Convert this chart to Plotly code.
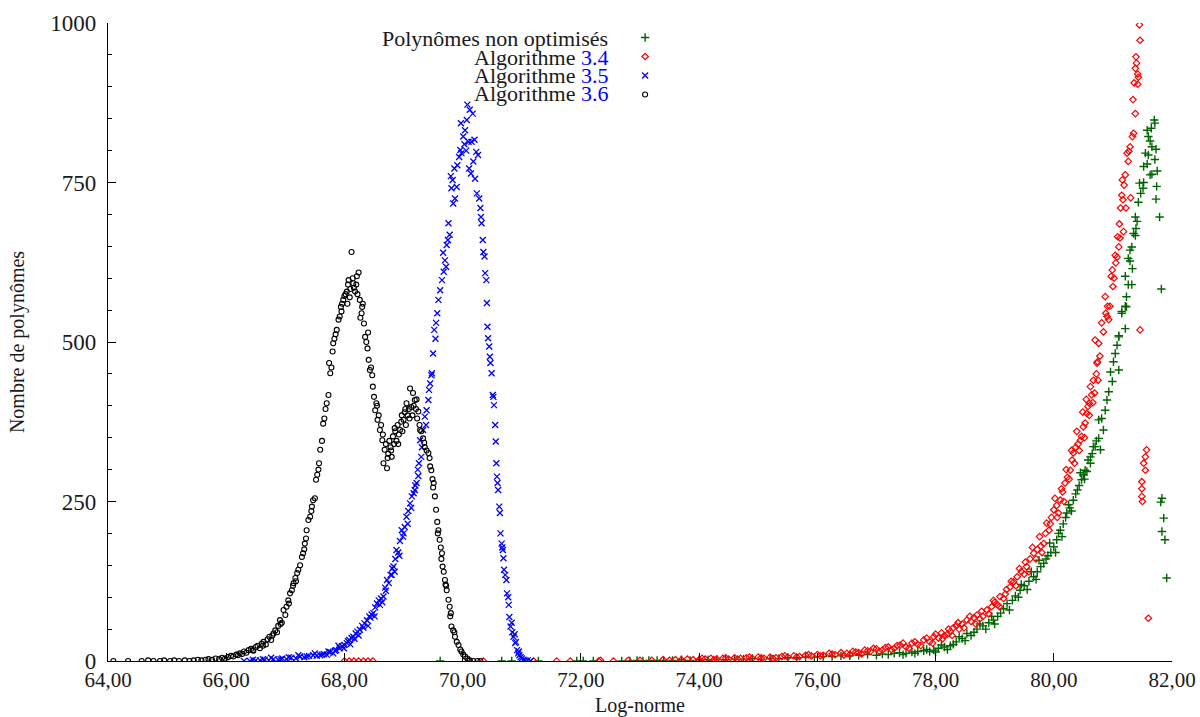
import plotly.graph_objects as go

# ---------------- data ----------------
black_x = [64.09, 64.34, 64.57, 64.68, 64.77, 64.88, 64.95, 65.05, 65.12, 65.2, 65.3, 65.38, 65.45, 65.52, 65.58,
           65.65, 65.7, 65.76, 65.82, 65.88, 65.93, 65.98, 66.03, 66.08, 66.12, 66.17, 66.2, 66.23, 66.27, 66.3,
           66.34, 66.38, 66.42, 66.46, 66.5, 66.53, 66.57, 66.6, 66.63, 66.67, 66.7, 66.73, 66.76, 66.8, 66.83,
           66.86, 66.88, 66.91, 66.94, 66.97, 67.0, 67.02, 67.05, 67.08, 67.11, 67.13, 67.14, 67.17, 67.2, 67.22,
           67.25, 67.28, 67.3, 67.33, 67.35, 67.36, 67.39, 67.42, 67.45, 67.47, 67.5, 67.52, 67.54, 67.57, 67.59,
           67.62, 67.64, 67.66, 67.7, 67.73, 67.74, 67.76, 67.78, 67.81, 67.83, 67.85, 67.87, 67.9, 67.92, 67.94,
           67.96, 67.98, 68.0, 68.02, 68.04, 68.06, 68.07, 68.09, 68.1, 68.12, 68.14, 68.16, 68.18, 68.2, 68.22,
           68.24, 68.26, 68.27, 68.29, 68.31, 68.33, 68.35, 68.37, 68.39, 68.41, 68.43, 68.45, 68.47, 68.48, 68.5,
           68.52, 68.54, 68.56, 68.58, 68.6, 68.62, 68.64, 68.66, 68.68, 68.7, 68.72, 68.74, 68.76, 68.78, 68.8,
           68.82, 68.84, 68.86, 68.88, 68.9, 68.92, 68.94, 68.96, 68.98, 69.0, 69.02, 69.04, 69.05, 69.07, 69.09,
           69.11, 69.13, 69.15, 69.17, 69.19, 69.21, 69.23, 69.25, 69.27, 69.3, 69.33, 69.36, 69.39, 69.42, 69.45,
           69.47, 69.49, 69.51, 69.53, 69.55, 69.57, 69.59, 69.61, 69.63, 69.65, 69.66, 69.68, 69.7, 69.72, 69.73,
           69.76, 69.78, 69.8, 69.81, 69.84, 69.87, 69.9, 69.93, 69.96, 69.98, 70.01, 70.04, 70.08, 70.12, 70.18,
           70.25, 70.3,
           66.45, 66.62, 66.78, 66.92, 67.06, 67.18, 67.32, 67.44, 67.56, 67.68, 67.8, 67.95, 68.05, 68.15, 68.21,
           68.3, 68.4, 68.55, 68.65, 68.73, 68.79, 68.85, 68.91, 68.97, 69.03, 69.1, 69.16, 69.22, 69.28, 69.35,
           69.44, 69.5, 69.58, 69.64, 69.71, 69.79, 69.86]
black_y = [0, 0, 0, 1, 0, 0, 1, 0, 1, 0, 1, 0, 1, 2, 1,
           2, 3, 2, 4, 3, 5, 4, 6, 8, 7, 10, 9, 12, 11, 15,
           13, 17, 19, 16, 22, 24, 20, 27, 30, 26, 34, 38, 33, 43, 48,
           45, 55, 64, 60, 80, 72, 85, 95, 106, 111, 118, 122, 130, 138, 143,
           150, 163, 169, 184, 192, 205, 221, 226, 242, 252, 255, 284, 292, 310, 331,
           345, 372, 380, 404, 417, 467, 451, 460, 498, 505, 512, 519, 535, 540, 555,
           560, 566, 572, 575, 579, 590, 597, 570, 583, 641, 600, 585, 579, 590, 575,
           609, 566, 538, 545, 560, 529, 508, 500, 490, 472, 456, 460, 448, 430, 414,
           393, 404, 378, 385, 362, 370, 346, 310, 331, 340, 302, 325, 345, 335, 320,
           352, 340, 360, 345, 370, 355, 362, 375, 360, 378, 390, 370, 404, 385, 395,
           427, 398, 385, 400, 409, 395, 380, 391, 370, 360, 349, 335, 330, 326, 305,
           299, 285, 279, 258, 237, 218, 205, 190, 178, 169, 148, 140, 127, 118, 111,
           96, 85, 75, 54, 48, 38, 30, 25, 18, 15, 10, 7, 4, 1, 0,
           0, 0,
           17, 24, 40, 58, 90, 125, 175, 235, 300, 395, 485, 548, 560, 592, 603,
           555, 515, 400, 355, 318, 330, 365, 340, 385, 395, 380, 420, 410, 362, 342,
           318, 272, 200, 160, 120, 70, 45]

blue_x = [66.3, 66.4, 66.5, 66.57, 66.65, 66.72, 66.8, 66.88, 66.95, 67.02, 67.1, 67.18, 67.25, 67.32, 67.4,
          67.47, 67.53, 67.59, 67.65, 67.7, 67.76, 67.81, 67.86, 67.92, 67.96, 68.0, 68.04, 68.08, 68.12, 68.15,
          68.19, 68.22, 68.26, 68.3, 68.34, 68.38, 68.42, 68.46, 68.49, 68.52, 68.55, 68.58, 68.62, 68.66, 68.69,
          68.72, 68.75, 68.78, 68.81, 68.83, 68.86, 68.88, 68.91, 68.94, 68.97, 69.0, 69.02, 69.05, 69.08, 69.11,
          69.14, 69.17, 69.2, 69.22, 69.24, 69.26, 69.28, 69.3, 69.33, 69.36, 69.39, 69.42, 69.43, 69.45, 69.47,
          69.48, 69.5, 69.52, 69.54, 69.57, 69.59, 69.62, 69.65, 69.68, 69.7, 69.72, 69.73, 69.75, 69.76, 69.78,
          69.81, 69.83, 69.84, 69.86, 69.87, 69.9, 69.91, 69.94, 69.96, 69.97, 69.98, 70.01, 70.03, 70.04, 70.06,
          70.07, 70.08, 70.1, 70.11, 70.12, 70.14, 70.15, 70.17, 70.18, 70.2, 70.21, 70.23, 70.24, 70.26, 70.28,
          70.3, 70.31, 70.32, 70.34, 70.35, 70.37, 70.38, 70.4, 70.41, 70.42, 70.43, 70.45, 70.46, 70.47, 70.49,
          70.51, 70.52, 70.53, 70.55, 70.56, 70.57, 70.58, 70.59, 70.6, 70.62, 70.63, 70.64, 70.66, 70.68, 70.69,
          70.7, 70.72, 70.74, 70.75, 70.78, 70.79, 70.81, 70.84, 70.86, 70.89, 70.92, 70.94, 70.96, 70.98, 71.0,
          71.03, 71.06, 71.1, 71.15,
          66.45, 66.62, 66.76, 66.92, 67.06, 67.22, 67.36, 67.5, 67.62, 67.73, 67.84, 67.9, 67.99, 68.06, 68.1,
          68.17, 68.24, 68.32, 68.4, 68.44, 68.51, 68.6, 68.64, 68.7, 68.8, 68.85, 68.93, 68.99, 69.07, 69.13,
          69.19, 69.25, 69.31, 69.38, 69.55, 69.67, 69.8, 70.67, 70.77, 70.83, 70.88, 70.9, 70.95]
blue_y = [0, 0, 1, 1, 2, 1, 3, 2, 4, 3, 5, 4, 7, 6, 8,
          9, 8, 9, 11, 10, 14, 12, 17, 20, 23, 25, 28, 33, 36, 38,
          43, 46, 49, 55, 59, 64, 70, 73, 75, 84, 90, 95, 98, 101, 115,
          127, 122, 135, 145, 148, 160, 174, 170, 188, 205, 200, 210, 226, 235, 247,
          258, 263, 275, 279, 300, 310, 346, 320, 362, 383, 393, 409, 425, 435, 448,
          451, 482, 519, 505, 545, 566, 581, 597, 610, 628, 618, 652, 660, 686, 668,
          741, 754, 717, 772, 725, 743, 777, 790, 801, 843, 796, 822, 810, 832, 800,
          848, 872, 814, 772, 864, 764, 814, 858, 783, 817, 756, 798, 733, 793, 725,
          710, 696, 686, 660, 641, 634, 608, 597, 561, 524, 506, 493, 477, 467, 451,
          417, 414, 401, 370, 344, 310, 289, 279, 268, 242, 232, 200, 184, 174, 161,
          143, 135, 127, 106, 88, 69, 54, 45, 38, 28, 17, 12, 9, 6, 4,
          2, 1, 1, 0,
          2, 3, 5, 3, 6, 9, 7, 12, 10, 15, 16, 24, 20, 31, 26,
          35, 40, 52, 55, 68, 70, 88, 92, 110, 135, 140, 165, 195, 215, 240,
          268, 290, 335, 370, 530, 640, 760, 178, 100, 60, 42, 30, 15]

red_x = [68.0, 68.08, 68.16, 68.24, 68.32, 68.4, 68.48, 70.1, 70.35, 71.2, 71.59, 71.82, 72.3, 72.33, 72.55,
         72.8, 73.0, 73.2, 73.39, 73.5, 73.6, 73.7, 73.8, 73.9, 74.0, 74.1, 74.2, 74.3, 74.4, 74.5,
         74.6, 74.7, 74.8, 74.9, 75.0, 75.1, 75.2, 75.3, 75.4, 75.5, 75.6, 75.7, 75.8, 75.9, 76.0,
         76.1, 76.2, 76.3, 76.4, 76.5, 76.6, 76.7, 76.8, 76.9, 77.0, 77.1, 77.2, 77.3, 77.4, 77.5,
         77.6, 77.7, 77.8, 77.9, 77.97, 78.05, 78.1, 78.15, 78.2, 78.25, 78.3, 78.35, 78.4, 78.45, 78.53,
         78.6, 78.65, 78.7, 78.75, 78.8, 78.87, 78.95, 79.0, 79.05, 79.09, 79.15, 79.2, 79.26, 79.32, 79.38,
         79.45, 79.5, 79.54, 79.6, 79.66, 79.72, 79.78, 79.83, 79.88, 79.92, 79.96, 80.0, 80.05, 80.08, 80.11,
         80.15, 80.19, 80.23, 80.28, 80.31, 80.33, 80.37, 80.41, 80.45, 80.47, 80.5, 80.53, 80.56, 80.58, 80.6,
         80.64, 80.67, 80.69, 80.7, 80.73, 80.74, 80.76, 80.78, 80.81, 80.84, 80.87, 80.88, 80.9, 80.91, 80.93,
         80.95, 80.97, 80.99, 81.0, 81.02, 81.04, 81.05, 81.07, 81.08, 81.1, 81.11, 81.12, 81.13, 81.15, 81.16,
         81.17, 81.18, 81.19, 81.21, 81.22, 81.24, 81.26, 81.27, 81.29, 81.3, 81.33, 81.34, 81.35, 81.36, 81.38,
         81.38, 81.39, 81.4, 81.42, 81.43, 81.42, 81.45, 81.46, 81.46, 81.49, 81.49, 81.49, 81.5, 81.52, 81.55,
         81.55, 81.57, 81.6,
         74.05, 74.25, 74.45, 74.65, 74.85, 75.05, 75.25, 75.45, 75.65, 75.85, 76.05, 76.25, 76.45,
         76.55, 76.65, 76.75, 76.85, 76.95, 77.05, 77.15, 77.25, 77.35, 77.45, 77.55, 77.65, 77.75, 77.85, 77.95,
         78.0, 78.12, 78.22, 78.28, 78.38, 78.48, 78.58, 78.68, 78.78, 78.9, 78.98, 79.08, 79.18, 79.28, 79.36,
         79.42, 79.52, 79.58, 79.64, 79.7, 79.76, 79.8, 79.86, 79.94, 80.02, 80.06, 80.13, 80.17, 80.21, 80.26,
         80.3, 80.35, 80.39, 80.43, 80.49, 80.52, 80.55, 80.6, 80.62, 80.66, 80.72, 80.75]
red_y = [0, 0, 0, 0, 0, 0, 0, 0, 0, 0, 0, 0, 0, 1, 0,
         1, 1, 1, 2, 1, 2, 2, 3, 2, 2, 3, 4, 3, 4, 3,
         5, 4, 5, 4, 6, 4, 6, 5, 7, 6, 8, 7, 9, 8, 10,
         9, 12, 10, 13, 12, 15, 13, 17, 15, 19, 17, 22, 20, 25, 22,
         28, 26, 33, 30, 38, 36, 44, 40, 42, 46, 52, 55, 50, 58, 64,
         62, 68, 72, 66, 70, 80, 85, 92, 88, 101, 98, 112, 116, 124, 132,
         140, 136, 148, 160, 169, 175, 180, 184, 216, 205, 225, 237, 244, 232, 252,
         265, 279, 288, 299, 315, 326, 335, 340, 346, 352, 367, 373, 388, 399, 404,
         417, 440, 420, 503, 467, 469, 498, 478, 530, 516, 571, 545, 540, 556, 535,
         556, 603, 613, 587, 600, 636, 624, 633, 665, 649, 685, 663, 710, 730, 754,
         723, 673, 746, 762, 710, 796, 783, 799, 806, 726, 822, 880, 827, 906, 929,
         858, 947, 937, 920, 915, 904, 997, 973, 519, 281, 270, 258, 250, 310, 320,
         299, 331, 67,
         4, 2, 5, 3, 6, 5, 4, 8, 6, 10, 8, 11, 9,
         10, 14, 11, 16, 20, 15, 21, 18, 24, 28, 20, 30, 24, 36, 28,
         42, 35, 50, 40, 60, 52, 70, 58, 78, 74, 95, 85, 105, 125, 118,
         145, 155, 140, 178, 160, 195, 170, 200, 215, 255, 225, 270, 250, 300, 285,
         330, 310, 360, 330, 390, 350, 410, 385, 430, 405, 450, 440]

green_x = [69.62, 70.66, 70.83, 71.28, 71.93, 72.04, 72.21, 72.69, 72.83, 72.95, 73.05, 73.15, 73.29, 73.4, 73.55,
           73.7, 73.85, 74.0, 74.15, 74.3, 74.45, 74.6, 74.75, 74.9, 75.05, 75.2, 75.35, 75.5, 75.65, 75.8,
           75.95, 76.1, 76.25, 76.4, 76.55, 76.7, 76.85, 77.0, 77.1, 77.2, 77.3, 77.39, 77.5, 77.6, 77.7,
           77.8, 77.9, 77.97, 78.05, 78.15, 78.25, 78.35, 78.45, 78.53, 78.6, 78.7, 78.8, 78.9, 78.98, 79.05,
           79.1, 79.21, 79.3, 79.35, 79.43, 79.5, 79.58, 79.66, 79.72, 79.78, 79.83, 79.9, 79.95, 80.0, 80.05,
           80.11, 80.16, 80.22, 80.27, 80.33, 80.4, 80.47, 80.5, 80.53, 80.56, 80.62, 80.62, 80.67, 80.7, 80.76,
           80.76, 80.79, 80.81, 80.84, 80.87, 80.9, 80.93, 80.96, 80.99, 81.01, 81.04, 81.07, 81.1, 81.1, 81.1,
           81.15, 81.15, 81.21, 81.21, 81.23, 81.23, 81.21, 81.26, 81.26, 81.29, 81.29, 81.32, 81.32, 81.33, 81.35,
           81.38, 81.38, 81.39, 81.41, 81.43, 81.45, 81.47, 81.51, 81.52, 81.52, 81.55, 81.58, 81.58, 81.6, 81.6,
           81.63, 81.63, 81.65, 81.66, 81.66, 81.7, 81.71, 81.71, 81.73, 81.73, 81.74, 81.75, 81.79, 81.82, 81.83,
           81.81, 81.86, 81.83, 81.88, 81.91,
           77.45, 77.65, 77.85, 78.0, 78.1, 78.2, 78.3, 78.4, 78.5, 78.65, 78.75, 78.85, 78.95, 79.0, 79.15,
           79.25, 79.4, 79.45, 79.55, 79.62, 79.7, 79.75, 79.87, 79.93, 80.03, 80.08, 80.14, 80.2, 80.25, 80.3,
           80.37, 80.43, 80.45, 80.52, 80.58, 80.65, 80.72]
green_y = [0, 0, 0, 0, 0, 0, 0, 0, 0, 1, 0, 1, 1, 1, 1,
           2, 1, 2, 2, 3, 2, 3, 3, 4, 3, 4, 4, 5, 5, 6,
           6, 7, 7, 8, 8, 9, 10, 9, 11, 10, 12, 13, 12, 14, 15,
           16, 15, 17, 20, 22, 24, 30, 35, 43, 40, 50, 55, 60, 64, 70,
           75, 90, 95, 102, 111, 118, 125, 132, 140, 148, 153, 165, 170, 179, 190,
           205, 215, 232, 240, 252, 268, 284, 292, 299, 297, 310, 320, 336, 336, 349,
           378, 331, 380, 362, 393, 409, 422, 453, 438, 469, 482, 495, 508, 456, 510,
           545, 548, 521, 556, 555, 571, 603, 590, 631, 627, 644, 649, 590, 615, 670,
           667, 696, 678, 689, 719, 749, 733, 741, 750, 775, 796, 779, 832, 822, 793,
           815, 762, 835, 806, 763, 848, 843, 786, 802, 724, 744, 768, 696, 583, 255,
           249, 224, 203, 190, 130,
           10, 12, 18, 14, 25, 18, 26, 38, 32, 45, 58, 50, 70, 58, 82,
           80, 100, 120, 112, 140, 128, 158, 160, 185, 170, 200, 195, 225, 245, 235,
           262, 275, 295, 285, 315, 325, 345]

series_names = ["Polynômes non optimisés", "Algorithme 3.4", "Algorithme 3.5", "Algorithme 3.6"]
x_ticks = [64, 66, 68, 70, 72, 74, 76, 78, 80, 82]
x_tick_labels = ["64,00", "66,00", "68,00", "70,00", "72,00", "74,00", "76,00", "78,00", "80,00", "82,00"]
y_ticks = [0, 250, 500, 750, 1000]

# ---------------- figure ----------------
FONT = "Liberation Serif"
TXT = "#1a1a1a"
fig = go.Figure()

styles = [
    (green_x, green_y, dict(symbol="cross-thin-open", size=6, color="#006400", line=dict(width=1.4, color="#006400"))),
    (red_x, red_y, dict(symbol="diamond-open", size=5, color="#ff0000", line=dict(width=1.2, color="#ff0000"))),
    (blue_x, blue_y, dict(symbol="x-thin-open", size=6, color="#0000ff", line=dict(width=1.3, color="#0000ff"))),
    (black_x, black_y, dict(symbol="circle-open", size=5, color="#000000", line=dict(width=1.1, color="#000000"))),
]
for (xs, ys, mk), nm in zip(styles, series_names):
    fig.add_trace(go.Scatter(x=xs, y=ys, mode="markers", marker=mk, name=" ",
                             hovertext=nm, showlegend=True))

# legend text (right aligned, number in blue)
legend_texts = [
    "Polynômes non optimisés",
    "Algorithme <span style='color:#0000ff'>3.4</span>",
    "Algorithme <span style='color:#0000ff'>3.5</span>",
    "Algorithme <span style='color:#0000ff'>3.6</span>",
]
legend_y = [0.9757, 0.9467, 0.9177, 0.8900]
for t, yy in zip(legend_texts, legend_y):
    fig.add_annotation(xref="paper", yref="paper", x=0.4718, y=yy, text=t, showarrow=False,
                       xanchor="right", yanchor="middle", font=dict(family=FONT, size=22, color=TXT))

fig.update_layout(
    width=1200, height=717,
    margin=dict(l=108, r=28, t=23, b=56),
    plot_bgcolor="white", paper_bgcolor="white",
    font=dict(family=FONT, size=22, color=TXT),
    showlegend=True,
    legend=dict(x=0.486, y=1.0, xanchor="left", yanchor="top", bgcolor="rgba(0,0,0,0)",
                font=dict(size=11), itemwidth=30, tracegroupgap=0),
    xaxis=dict(range=[64, 82], tickvals=x_ticks, ticktext=x_tick_labels, showgrid=False, zeroline=False,
               showline=True, linecolor="black", linewidth=1.3, ticks="inside", ticklen=8, tickcolor="black",
               automargin=False,
               title=dict(text="Log-norme", standoff=6, font=dict(size=20)), tickfont=dict(size=21)),
    yaxis=dict(range=[0, 1000], tickvals=y_ticks, tickformat="d", showgrid=False, zeroline=False,
               showline=True, linecolor="black", linewidth=1.3, ticks="inside", ticklen=8, tickcolor="black",
               automargin=False, ticklabelstandoff=6,
               minor=dict(dtick=50, ticks="inside", ticklen=4, tickcolor="black", showgrid=False),
               title=dict(text="Nombre de polynômes", standoff=20, font=dict(size=20)), tickfont=dict(size=23)),
)

# remove the default 8px page margin so the 1200x717 figure fills the window exactly
fig.write_html("out.html",
               config={"displayModeBar": False},
               post_script="document.body.style.margin='0';document.body.style.overflow='hidden';")
